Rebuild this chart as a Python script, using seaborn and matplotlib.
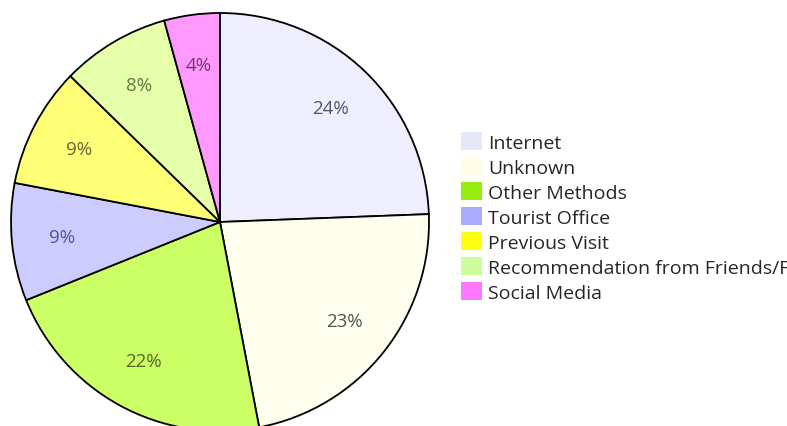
import matplotlib
matplotlib.use("Agg")
import matplotlib.pyplot as plt
from matplotlib.patches import Patch
import seaborn as sns

categories = ["Internet", "Unknown", "Other Methods", "Tourist Office",
              "Previous Visit", "Recommendation from Friends/Family", "Social Media"]
values = [24.4, 22.6, 21.9, 9.1, 9.3, 8.4, 4.3]
slice_colors = ["#EEEEFF", "#FFFFEE", "#CCFF66", "#CCCCFF", "#FFFF77", "#E6FFAA", "#FF99FF"]
legend_colors = ["#E6E8FA", "#FFFDE6", "#99EE11", "#AAAAFF", "#FFFF11", "#CCFF99", "#FF77FF"]
label_colors = ["#555566", "#555555", "#556622", "#555588", "#666633", "#667744", "#773377"]

sns.set_style("white")
plt.rcParams["font.family"] = ["Open Sans", "DejaVu Sans"]

W, H = 787, 427
fig = plt.figure(figsize=(W / 100, H / 100), dpi=100)
ax = fig.add_axes([11 / W, -5 / H, 418 / W, 418 / H])

wedges, texts, autotexts = ax.pie(
    values, colors=slice_colors, startangle=90, counterclock=False,
    autopct="%.0f%%", pctdistance=0.76,
    wedgeprops=dict(edgecolor="black", linewidth=1.3),
    textprops=dict(fontsize=13.5),
)
for t, c in zip(autotexts, label_colors):
    t.set_color(c)
ax.set_xlim(-1.0, 1.0)
ax.set_ylim(-1.0, 1.0)
ax.set_aspect("equal")
ax.axis("off")

handles = [Patch(facecolor=c, edgecolor="none") for c in legend_colors]
fig.legend(handles, categories, loc="upper left",
           bbox_to_anchor=(461 / W, 1 - 133 / H),
           frameon=False, fontsize=14, handlelength=1.1, handleheight=1.05,
           handletextpad=0.3, labelspacing=0.275, borderpad=0, borderaxespad=0)

fig.savefig("out.png", dpi=100)
